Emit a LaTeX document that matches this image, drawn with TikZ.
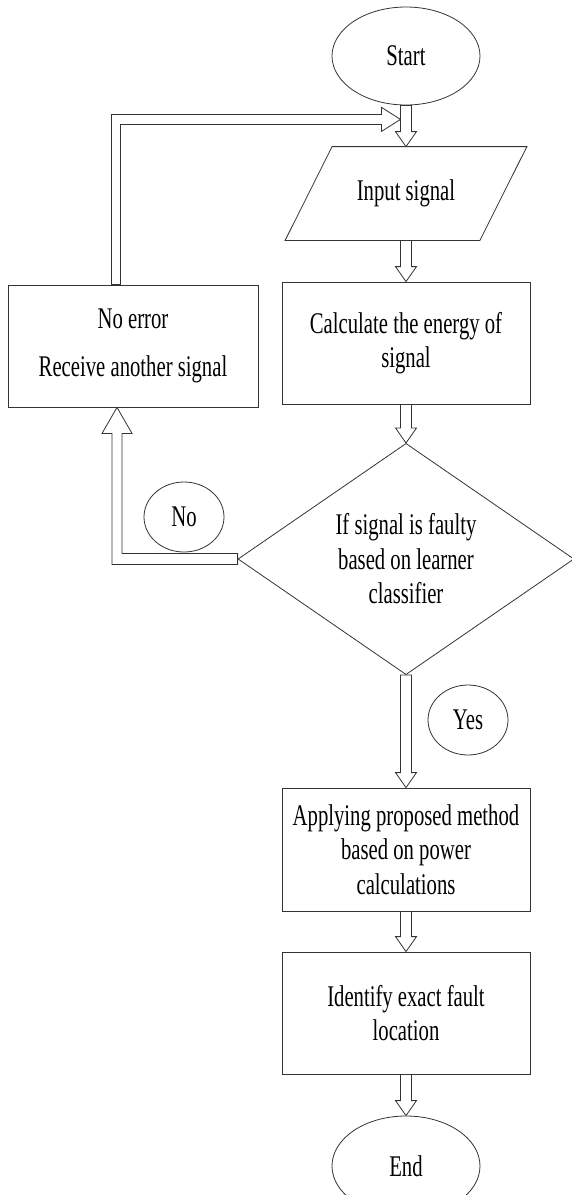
\documentclass[tikz,border=0pt]{standalone}
\usepackage{fontspec}
\setmainfont{Liberation Serif}[FakeStretch=0.69]
\usetikzlibrary{shapes.geometric,calc}

\newcommand{\flowarrow}[2]{%
  \draw[hollow] ($(#1.south)+(-5.5,0)$) -- ($(#2.north)+(-5.5,-15)$) -- ++(-5,0)
    -- (#2.north) -- ++(10.5,-15) -- ++(-5,0) -- ($(#1.south)+(5.5,0)$) -- cycle;}

\begin{document}
\begin{tikzpicture}
[x=1pt,y=-1pt,every node/.style={draw=black!80, line width=.8pt, text=black, inner sep=0pt, align=center, font=\fontsize{30}{34.5}\selectfont},
 box/.style={rectangle, minimum width=248pt, minimum height=122pt},
 oval/.style={ellipse, minimum width=148pt, minimum height=98pt},
 bubble/.style={ellipse, minimum width=80pt, minimum height=70pt},
 hollow/.style={draw=black!80, line width=.8pt, fill=white, line join=miter}]
\useasboundingbox (0,0) rectangle (572,1195);
\clip (0,0) rectangle (572,1195);
\node[oval] (start) at (406,56) {Start};
\node[draw=none, minimum width=194pt, minimum height=93pt] (input) at (406,193.5) {Input signal};
\draw[draw=black!80, line width=.8pt] ($(input.north west)+(23.5,0)$) -- ($(input.north east)+(23.5,0)$) -- ($(input.south east)+(-23.5,0)$) -- ($(input.south west)+(-23.5,0)$) -- cycle;
\node[box] (calc) at (406,343) {Calculate the energy of\\signal};
\node[box, minimum width=250pt] (err) at (133,346) {No error\\[13pt]Receive another signal};
\node[diamond, minimum width=336pt, minimum height=228pt] (test) at (406,559) {If signal is faulty\\based on learner\\classifier};
\node[bubble] (nobub) at (184,517) {No};
\node[bubble] (yesbub) at (468,720) {Yes};
\node[box, minimum height=123pt] (apply) at (406,849.5) {Applying proposed method\\based on power\\calculations};
\node[box] (locate) at (406,1013) {Identify exact fault\\location};
\node[oval, minimum height=100pt] (finish) at (406,1166) {End};
\coordinate (fbtip) at ($(start.south)+(-5.5,14)$);
\coordinate (fbfoot) at ($(err.north)+(-17,0)$);
\coordinate (nohit) at ($(err.south)+(-16,0)$);
\draw[hollow] ($(fbfoot)+(-4.5,0)$) -- ($(fbfoot |- fbtip)+(-4.5,-5)$) -- ($(fbtip)+(-19,-5)$) -- ++(0,-7) -- (fbtip) -- ++(-19,12) -- ++(0,-7) -- ($(fbfoot |- fbtip)+(4.5,5)$) -- ($(fbfoot)+(4.5,0)$) -- cycle;
\draw[hollow] ($(test.west)+(0,-5.5)$) -- ($(nohit |- test.west)+(5,-5.5)$) -- ($(nohit)+(5,26)$) -- ++(10,0) -- (nohit) -- ++(-15,26) -- ++(10,0) -- ($(nohit |- test.west)+(-5,5.5)$) -- ($(test.west)+(0,5.5)$) -- cycle;
\flowarrow{start}{input}
\flowarrow{input}{calc}
\flowarrow{calc}{test}
\flowarrow{test}{apply}
\flowarrow{apply}{locate}
\flowarrow{locate}{finish}
\end{tikzpicture}
\end{document}
